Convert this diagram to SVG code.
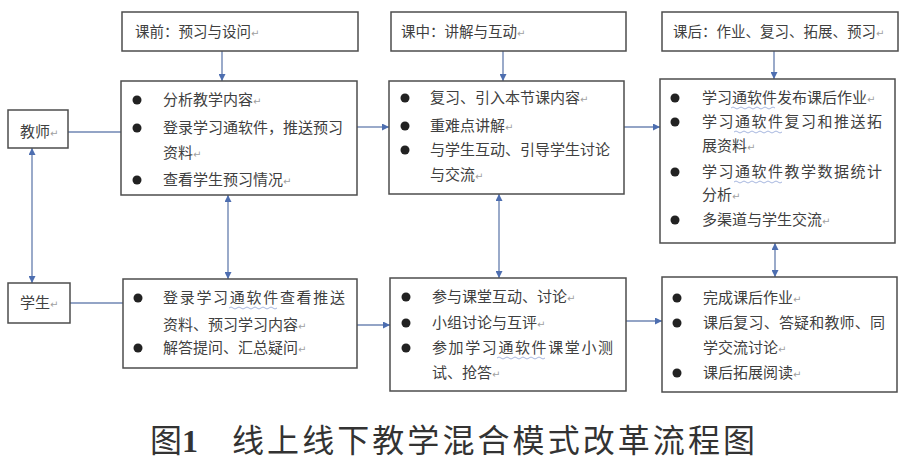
<svg xmlns="http://www.w3.org/2000/svg" width="907" height="469" viewBox="0 0 907 469">
<style>
.box{fill:#fff;stroke:#4d4d4d;stroke-width:1.5}
.t{font-family:"Noto Sans CJK SC","Noto Sans",sans-serif;font-size:15px;fill:#404040}
.h{font-family:"Noto Sans CJK SC","Noto Sans",sans-serif;font-size:14.5px;fill:#404040}
.pm{font-family:"DejaVu Sans",sans-serif;font-size:10px;fill:#a0a0a0}
.b{fill:#222}
.ln{stroke:#6f86b3;stroke-width:1.4;fill:none}
.wv{stroke:#8fa3d6;stroke-width:0.8;fill:none}
.cap{font-family:"Noto Sans CJK SC","Noto Sans",sans-serif;font-size:32px;font-weight:400;fill:#333}
.capn{font-family:"Liberation Serif",serif;font-weight:700}
</style>
<defs>
<marker id="ar" viewBox="0 0 8 8" refX="8" refY="4" markerWidth="7" markerHeight="7" markerUnits="userSpaceOnUse" orient="auto-start-reverse">
<path d="M0,0 L8,4 L0,8 z" fill="#4d6eb0"/>
</marker>
</defs>
<rect width="907" height="469" fill="#fff"/>

<g id="connectors">
<line class="ln" x1="222" y1="51" x2="222" y2="81" marker-end="url(#ar)"/>
<line class="ln" x1="503" y1="51" x2="503" y2="81" marker-end="url(#ar)"/>
<line class="ln" x1="774" y1="51" x2="774" y2="79" marker-end="url(#ar)"/>
<line class="ln" x1="68" y1="132" x2="121" y2="132"/>
<line class="ln" x1="357" y1="127" x2="389" y2="127" marker-end="url(#ar)"/>
<line class="ln" x1="624" y1="127" x2="660" y2="127" marker-end="url(#ar)"/>
<line class="ln" x1="32" y1="148" x2="32" y2="283" marker-start="url(#ar)" marker-end="url(#ar)"/>
<line class="ln" x1="228" y1="195" x2="228" y2="279" marker-start="url(#ar)" marker-end="url(#ar)"/>
<line class="ln" x1="499" y1="194" x2="499" y2="278" marker-start="url(#ar)" marker-end="url(#ar)"/>
<line class="ln" x1="775" y1="243" x2="775" y2="277" marker-start="url(#ar)" marker-end="url(#ar)"/>
<line class="ln" x1="70" y1="303" x2="123" y2="303"/>
<line class="ln" x1="357" y1="325" x2="390" y2="325" marker-end="url(#ar)"/>
<line class="ln" x1="626" y1="321" x2="662" y2="321" marker-end="url(#ar)"/>
</g>

<g id="h1">
<rect class="box" x="122" y="12" width="236" height="39"/>
<text class="h" x="135" y="37">课前：预习与设问<tspan class="pm">↵</tspan></text>
</g>
<g id="h2">
<rect class="box" x="391" y="12" width="235" height="39"/>
<text class="h" x="401" y="37">课中：讲解与互动<tspan class="pm">↵</tspan></text>
</g>
<g id="h3">
<rect class="box" x="662" y="12" width="236" height="39"/>
<text class="h" x="673" y="37">课后：作业、复习、拓展、预习<tspan class="pm">↵</tspan></text>
</g>

<g id="teacher">
<rect class="box" x="8" y="110" width="60" height="38"/>
<text class="t" x="20" y="137">教师<tspan class="pm">↵</tspan></text>
</g>
<g id="student">
<rect class="box" x="8" y="283" width="62" height="40"/>
<text class="t" x="20" y="308">学生<tspan class="pm">↵</tspan></text>
</g>

<g id="t1">
<rect class="box" x="121" y="81" width="236" height="114"/>
<circle class="b" cx="137" cy="100" r="4.5"/>
<circle class="b" cx="137" cy="128" r="4.5"/>
<circle class="b" cx="137" cy="180" r="4.5"/>
<text class="t" x="163" y="105">分析教学内容<tspan class="pm">↵</tspan></text>
<text class="t" x="163" y="133" textLength="180" lengthAdjust="spacing">登录学习通软件，推送预习</text>
<text class="t" x="163" y="158">资料<tspan class="pm">↵</tspan></text>
<text class="t" x="163" y="185">查看学生预习情况<tspan class="pm">↵</tspan></text>
</g>

<g id="t2">
<rect class="box" x="389" y="81" width="235" height="113"/>
<circle class="b" cx="405" cy="98" r="4.5"/>
<circle class="b" cx="405" cy="126" r="4.5"/>
<circle class="b" cx="405" cy="150" r="4.5"/>
<text class="t" x="430" y="103">复习、引入本节课内容<tspan class="pm">↵</tspan></text>
<text class="t" x="430" y="131">重难点讲解<tspan class="pm">↵</tspan></text>
<text class="t" x="430" y="155" textLength="180" lengthAdjust="spacing">与学生互动、引导学生讨论</text>
<text class="t" x="430" y="180">与交流<tspan class="pm">↵</tspan></text>
</g>

<g id="t3">
<rect class="box" x="660" y="79" width="235" height="164"/>
<circle class="b" cx="675" cy="98" r="4.5"/>
<circle class="b" cx="675" cy="122" r="4.5"/>
<circle class="b" cx="675" cy="172" r="4.5"/>
<circle class="b" cx="675" cy="220" r="4.5"/>
<text class="t" x="702" y="103">学习通软件发布课后作业<tspan class="pm">↵</tspan></text>
<text class="t" x="702" y="127" textLength="180" lengthAdjust="spacing">学习通软件复习和推送拓</text>
<text class="t" x="702" y="151">展资料<tspan class="pm">↵</tspan></text>
<text class="t" x="702" y="177" textLength="180" lengthAdjust="spacing">学习通软件教学数据统计</text>
<text class="t" x="702" y="200">分析<tspan class="pm">↵</tspan></text>
<text class="t" x="702" y="225">多渠道与学生交流<tspan class="pm">↵</tspan></text>
<path class="wv" d="M731,108 q2,-2 4,0 t4,0 t4,0 t4,0 t4,0 t4,0 t4,0 t4,0 t4,0 t4,0 t4,0"/>
<path class="wv" d="M734,132 q2,-2 4,0 t4,0 t4,0 t4,0 t4,0 t4,0 t4,0 t4,0 t4,0 t4,0 t4,0 t4,0"/>
<path class="wv" d="M734,182 q2,-2 4,0 t4,0 t4,0 t4,0 t4,0 t4,0 t4,0 t4,0 t4,0 t4,0 t4,0 t4,0"/>
</g>

<g id="s1">
<rect class="box" x="123" y="279" width="234" height="89"/>
<circle class="b" cx="138" cy="298" r="4.5"/>
<circle class="b" cx="138" cy="348" r="4.5"/>
<text class="t" x="163" y="303" textLength="182" lengthAdjust="spacing">登录学习通软件查看推送</text>
<text class="t" x="163" y="330">资料、预习学习内容<tspan class="pm">↵</tspan></text>
<text class="t" x="163" y="353">解答提问、汇总疑问<tspan class="pm">↵</tspan></text>
<path class="wv" d="M229,308 q2,-2 4,0 t4,0 t4,0 t4,0 t4,0 t4,0 t4,0 t4,0 t4,0 t4,0 t4,0 t4,0"/>
</g>

<g id="s2">
<rect class="box" x="390" y="278" width="236" height="113"/>
<circle class="b" cx="406" cy="297" r="4.5"/>
<circle class="b" cx="406" cy="323" r="4.5"/>
<circle class="b" cx="406" cy="348" r="4.5"/>
<text class="t" x="432" y="302">参与课堂互动、讨论<tspan class="pm">↵</tspan></text>
<text class="t" x="432" y="328">小组讨论与互评<tspan class="pm">↵</tspan></text>
<text class="t" x="432" y="353" textLength="181" lengthAdjust="spacing">参加学习通软件课堂小测</text>
<text class="t" x="432" y="378">试、抢答<tspan class="pm">↵</tspan></text>
<path class="wv" d="M497,358 q2,-2 4,0 t4,0 t4,0 t4,0 t4,0 t4,0 t4,0 t4,0 t4,0 t4,0 t4,0 t4,0"/>
</g>

<g id="s3">
<rect class="box" x="662" y="277" width="235" height="115"/>
<circle class="b" cx="677" cy="298" r="4.5"/>
<circle class="b" cx="677" cy="323" r="4.5"/>
<circle class="b" cx="677" cy="373" r="4.5"/>
<text class="t" x="703" y="303">完成课后作业<tspan class="pm">↵</tspan></text>
<text class="t" x="703" y="328" textLength="182" lengthAdjust="spacing">课后复习、答疑和教师、同</text>
<text class="t" x="703" y="353">学交流讨论<tspan class="pm">↵</tspan></text>
<text class="t" x="703" y="378">课后拓展阅读<tspan class="pm">↵</tspan></text>
</g>

<g id="caption">
<text class="cap" x="150" y="452">图<tspan class="capn">1</tspan></text>
<text class="cap" x="232" y="452" textLength="523" lengthAdjust="spacing">线上线下教学混合模式改革流程图</text>
</g>
</svg>
